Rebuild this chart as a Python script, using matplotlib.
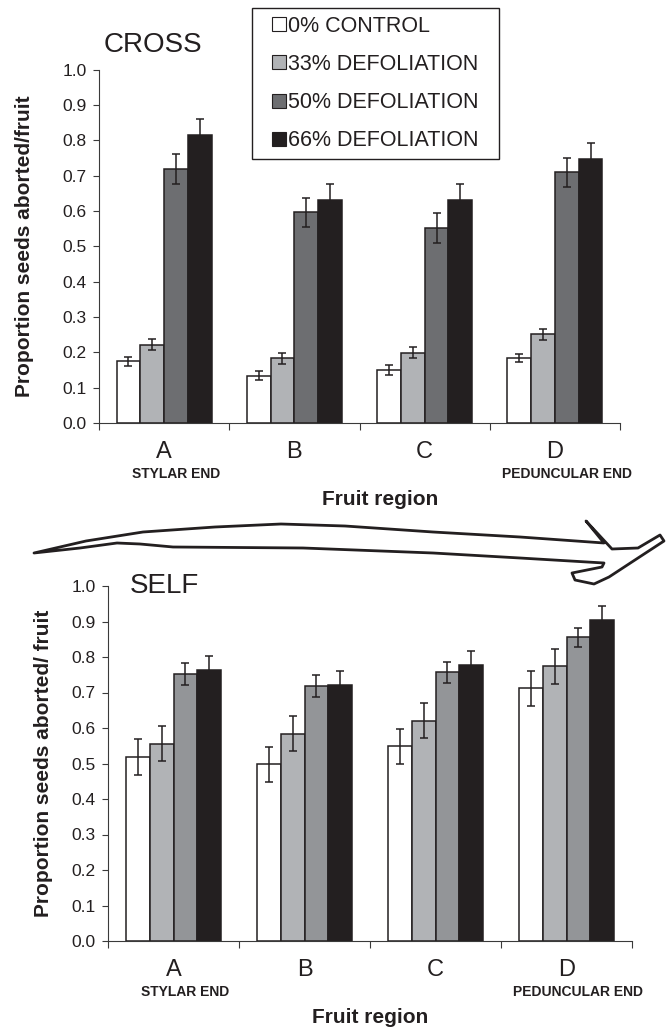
import numpy as np
import matplotlib.pyplot as plt
from matplotlib.patches import Polygon, Rectangle, Patch

plt.rcParams['font.family'] = ['Liberation Sans', 'DejaVu Sans']
INK = '#231f20'

regions = ['A', 'B', 'C', 'D']
region_notes = ['STYLAR END', '', '', 'PEDUNCULAR END']
treatments = ['0% CONTROL', '33% DEFOLIATION', '50% DEFOLIATION', '66% DEFOLIATION']

# cross-pollinated fruits: mean proportion aborted and error per region
cross_0 = [0.175, 0.134, 0.150, 0.184]
cross_33 = [0.222, 0.183, 0.199, 0.251]
cross_50 = [0.719, 0.596, 0.552, 0.709]
cross_66 = [0.816, 0.632, 0.631, 0.746]
cross_0_err = [0.013, 0.012, 0.013, 0.012]
cross_33_err = [0.016, 0.015, 0.015, 0.015]
cross_50_err = [0.042, 0.041, 0.042, 0.042]
cross_66_err = [0.045, 0.045, 0.044, 0.045]

# self-pollinated fruits
self_0 = [0.518, 0.498, 0.548, 0.712]
self_33 = [0.556, 0.584, 0.621, 0.774]
self_50 = [0.752, 0.718, 0.757, 0.855]
self_66 = [0.764, 0.720, 0.778, 0.904]
self_0_err = [0.050, 0.049, 0.049, 0.049]
self_33_err = [0.049, 0.050, 0.049, 0.049]
self_50_err = [0.030, 0.030, 0.030, 0.028]
self_66_err = [0.040, 0.040, 0.038, 0.040]

cross_colors = ['#ffffff', '#b1b3b6', '#6d6e71', INK]
self_colors = ['#ffffff', '#b1b3b6', '#939598', INK]

W, H = 670, 1033
fig = plt.figure(figsize=(W / 100, H / 100), dpi=100)


def px_axes(left, top, right, bottom):
    return fig.add_axes([left / W, 1 - bottom / H, (right - left) / W, (bottom - top) / H])


def draw_panel(ax, means, errs, colors, title, title_xy, ylabel, ylabel_x, xlabel_x):
    x = np.arange(len(regions))
    w = 0.1825
    for i, (m, e, c) in enumerate(zip(means, errs, colors)):
        ax.bar(x + (i - 1.5) * w, m, width=w, yerr=e, color=c, edgecolor=INK,
               linewidth=1.1, capsize=3,
               error_kw=dict(elinewidth=1.1, capthick=1.1, ecolor=INK), zorder=2)
    ax.set_xlim(-0.5, 3.5)
    ax.set_ylim(0, 1.0)
    ax.set_yticks(np.arange(0, 1.01, 0.1))
    ax.set_yticklabels([f'{v:.1f}' for v in np.arange(0, 1.01, 0.1)])
    ax.set_xticks(np.arange(-0.5, 3.6, 1.0))
    ax.set_xticklabels([])
    for s in ['top', 'right']:
        ax.spines[s].set_visible(False)
    for s in ['left', 'bottom']:
        ax.spines[s].set_color('#3a3a3a')
        ax.spines[s].set_linewidth(0.8)
    ax.tick_params(axis='y', direction='out', length=4, width=0.8, pad=5,
                   labelsize=12.5, labelcolor=INK, color='#3a3a3a')
    ax.tick_params(axis='x', direction='out', length=5, width=0.8, color='#3a3a3a')
    trans = ax.get_xaxis_transform()
    for i, (r, note) in enumerate(zip(regions, region_notes)):
        ax.annotate(r, (i, 0), xycoords=trans, xytext=(0, -21), textcoords='offset points',
                    ha='center', va='center', fontsize=17, color=INK)
        if note:
            ax.annotate(note, (i + 0.09, 0), xycoords=trans, xytext=(0, -37),
                        textcoords='offset points', ha='center', va='center',
                        fontsize=10, fontweight='bold', color=INK)
    ax.annotate('Fruit region', (xlabel_x, 0), xycoords='axes fraction', xytext=(0, -55),
                textcoords='offset points', ha='center', va='center',
                fontsize=15, fontweight='bold', color=INK)
    fig.text(title_xy[0] / W, 1 - title_xy[1] / H, title, fontsize=20, color=INK,
             ha='left', va='center')
    bb = ax.get_position()
    fig.text(ylabel_x / W, bb.y0 + bb.height / 2, ylabel, rotation=90, ha='center',
             va='center', fontsize=15, fontweight='bold', color=INK)


ax1 = px_axes(99, 69.5, 620, 423)
draw_panel(ax1,
           [cross_0, cross_33, cross_50, cross_66],
           [cross_0_err, cross_33_err, cross_50_err, cross_66_err],
           cross_colors, 'CROSS', (104, 45), 'Proportion seeds aborted/fruit', 25, 0.54)

ax2 = px_axes(108, 586, 632, 941)
draw_panel(ax2,
           [self_0, self_33, self_50, self_66],
           [self_0_err, self_33_err, self_50_err, self_66_err],
           self_colors, 'SELF', (130, 586), 'Proportion seeds aborted/ fruit', 44, 0.5)

# legend in a plain box at the top
handles = [Patch(facecolor=c, edgecolor=INK, linewidth=0.8) for c in cross_colors]
fig.legend(handles, treatments, loc='center',
           bbox_to_anchor=((252 + 499) / 2 / W, 1 - (8 + 159) / 2 / H),
           frameon=False, fontsize=15.5, handlelength=0.62, handleheight=0.62,
           handletextpad=0.12, labelspacing=0.8, labelcolor=INK, borderaxespad=0)
fig.add_artist(Rectangle((252 / W, 1 - 159 / H), (499 - 252) / W, (159 - 8) / H,
                         transform=fig.transFigure, fill=False, edgecolor=INK, linewidth=1))

# hand-drawn arrow between the panels
arrow_px = [(34, 553), (86, 541), (143, 532), (215, 527), (281, 524), (345, 526),
            (433, 532), (520, 537), (604, 543), (586, 521), (612, 549), (638, 548),
            (660, 535), (664, 541), (638, 558), (609, 577), (594, 584), (575, 580),
            (572, 573), (602, 567), (604, 563), (520, 558), (433, 553), (303, 548),
            (173, 547), (140, 544), (117, 543), (80, 548)]
arrow = Polygon([(x / W, 1 - y / H) for x, y in arrow_px], closed=True, fill=False,
                edgecolor=INK, linewidth=2, joinstyle='round', transform=fig.transFigure)
fig.add_artist(arrow)

fig.savefig('out.png', dpi=100, facecolor='white')
